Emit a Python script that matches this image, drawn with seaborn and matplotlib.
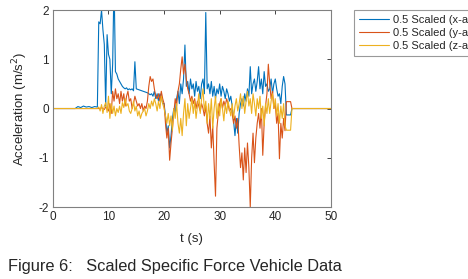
import numpy as np
import pandas as pd
import matplotlib
matplotlib.use("Agg")
import matplotlib.pyplot as plt
import seaborn as sns

# quiet lead-in, then the active recording sampled every 0.25 s from t=8 to t=43
t_pre = [0.0, 4.0, 4.5, 5.0, 5.5, 6.0, 6.5, 7.0, 7.5]
t_post = [50.0]
dt = 0.25
t_start = 8.0

x_pre = [0, 0, 0.04, 0.02, 0.05, 0.03, 0.04, 0.02, 0.04]
y_pre = [0, 0, 0, 0, 0, 0, 0, 0, 0]
z_pre = [0, 0, 0, 0, 0, 0, 0, 0, 0]

x_acc = [0.03, 1.76, 1.72, 2.0,
         1.6, 1.3, 0.05, 1.5,
         1.1, 1.0, 0.3, 0.9,
         2.6, 0.75, 0.7, 0.6,
         0.55, 0.5, 0.45, 0.42,
         0.4, 0.42, 0.38, 0.4,
         0.38, 0.4, 0.36, 0.95,
         0.4, 0.39, 0.38, 0.37,
         0.36, 0.35, 0.34, 0.33,
         0.32, 0.3, 0.28, 0.3,
         0.25, 0.35, 0.2, 0.3,
         0.15, 0.3, 0.25, 0.1,
         0.1, -0.15, -0.5, -0.35,
         -0.8, -0.55, -0.2, 0.0,
         -0.1, 0.2, 0.35, 0.1,
         0.5, 0.3, 0.6, 1.29,
         0.45, 0.55, 0.3, 0.6,
         0.4, 0.5, 0.25, 0.55,
         0.35, 0.45, 0.2, 0.5,
         0.6, 0.3, 1.95, 0.4,
         0.5, 0.3, 0.55, 0.25,
         0.45, 0.2, 0.4, 0.3,
         0.5, 0.25, 0.45, 0.35,
         0.2, 0.4, 0.3, 0.15,
         0.25, 0.05, -0.25, -0.55,
         -0.2, -0.5, -0.1, 0.1,
         0.2, 0.05, 0.3, 0.15,
         0.4, 0.25, 0.85, 0.3,
         0.5, 0.6, 0.35, 0.55,
         0.85, 0.4, 0.6, 0.3,
         0.75, 0.45, 0.5, 0.35,
         0.4, 0.6, 0.3, 0.5,
         0.6, 0.4, 0.25, 0.3,
         0.1, 0.45, 0.65, 0.5,
         -0.13, -0.13, -0.13, -0.13,
         0.0]

y_acc = [0.0, 0.0, 0.0, 0.02,
         0.0, -0.02, 0.03, 0.0,
         -0.05, 0.1, -0.1, 0.35,
         0.15, 0.4, 0.2, 0.3,
         0.1, 0.35, 0.15, 0.3,
         0.05, 0.25, 0.35, 0.15,
         0.2, 0.0, 0.1, 0.25,
         0.15, 0.05, 0.1, 0.0,
         0.1, -0.05, 0.05, 0.0,
         0.15, 0.45, 0.65, 0.55,
         0.6, 0.4, 0.25, 0.2,
         0.3, 0.15, 0.35, 0.2,
         0.1, -0.3, -0.6, -0.4,
         -1.05, -0.7, -0.4, -0.1,
         0.2, 0.05, 0.35, 0.5,
         0.8, 1.05, 0.7, 0.9,
         0.6, 0.4, 0.3, 0.15,
         0.25, 0.1, 0.2, 0.0,
         0.15, 0.05, -0.05, 0.1,
         0.0, -0.15, 0.05, -0.3,
         -0.5, -0.15, -0.8, -0.35,
         -1.1, -1.78, -0.4, -0.1,
         0.1, 0.2, 0.0, 0.15,
         0.05, 0.2, 0.1, -0.05,
         0.0, -0.1, -0.3, -0.15,
         -0.4, -0.2, -0.75, -1.2,
         -0.9, -1.45, -0.8, -1.3,
         -0.7, -1.2, -2.0, -1.0,
         -0.5, -1.1, -0.6, -0.3,
         -0.1, -0.4, 0.0, -0.95,
         -0.3, 0.05, 0.3, 0.9,
         0.5, 0.2, 0.35, 0.0,
         0.1, -0.3, -0.1, -1.02,
         -0.3, -0.6, -0.2, -0.45,
         0.14, 0.14, 0.14, 0.14,
         0.0]

z_acc = [0.0, 0.03, -0.05, 0.08,
         -0.1, 0.05, 0.12, -0.08,
         0.25, -0.2, 0.1, -0.1,
         0.05, -0.15, 0.0, -0.08,
         0.05, -0.1, 0.12, 0.02,
         0.2, 0.05, 0.1, -0.05,
         -0.1, 0.0, 0.15, -0.05,
         0.05, -0.15, -0.05, -0.2,
         -0.1, -0.05, 0.0, -0.15,
         -0.05, 0.1, 0.0, 0.15,
         0.05, 0.2, 0.1, -0.05,
         0.15, 0.0, 0.25, 0.1,
         0.0, -0.15, -0.3, -0.1,
         -0.35, -0.15, -0.45, 0.0,
         -0.2, 0.1, -0.3, -0.5,
         -0.2, -0.55, -0.1, 0.2,
         -0.35, 0.1, -0.2, 0.0,
         0.2, -0.1, 0.15, -0.2,
         0.05, 0.3, -0.1, 0.2,
         0.4, -0.05, 0.15, -0.3,
         0.1, -0.2, 0.2, -0.4,
         0.0, 0.25, -0.2, 0.1,
         -0.15, 0.2, 0.0, -0.25,
         0.1, -0.1, 0.15, 0.0,
         -0.15, 0.1, -0.2, 0.05,
         0.2, -0.05, 0.1, 0.3,
         0.0, 0.25, -0.1, 0.15,
         0.35, 0.05, 0.2, -0.1,
         0.3, 0.1, -0.15, 0.2,
         0.0, 0.25, -0.2, 0.05,
         -0.35, 0.1, -0.1, 0.2,
         -0.1, 0.15, 0.3, 0.0,
         0.2, -0.15, 0.1, -0.3,
         0.05, -0.2, 0.1, -0.35,
         -0.44, -0.44, -0.44, -0.44,
         0.0]

labels = ["0.5 Scaled (x-axis)", "0.5 Scaled (y-axis)", "0.5 Scaled (z-axis)"]
colors = ["#0072BD", "#D95319", "#EDB120"]

t_active = t_start + dt * np.arange(len(x_acc))
t_all = np.concatenate([t_pre, t_active, t_post])

frames = []
for lab, pre, vals in zip(labels, [x_pre, y_pre, z_pre], [x_acc, y_acc, z_acc]):
    frames.append(pd.DataFrame({"t": t_all,
                                "acc": np.concatenate([pre, vals, [0.0]]),
                                "series": lab}))
df = pd.concat(frames, ignore_index=True)

sns.set_style("white")
plt.rcParams["font.family"] = ["Liberation Sans", "DejaVu Sans"]
plt.rcParams["axes.unicode_minus"] = False

fig = plt.figure(figsize=(4.68, 2.79), dpi=100)
ax = fig.add_axes([0.113, 0.258, 0.594, 0.706])

sns.lineplot(data=df, x="t", y="acc", hue="series", palette=colors,
             estimator=None, sort=False, linewidth=0.8, ax=ax, legend=False)

ax.set_xlim(0, 50)
ax.set_ylim(-2, 2)
ax.set_xticks([0, 10, 20, 30, 40, 50])
ax.set_yticks([-2, -1, 0, 1, 2])
ax.tick_params(direction="in", length=3, width=0.6, labelsize=8.5, colors="#262626",
               top=True, right=True, pad=3)
for s in ax.spines.values():
    s.set_color("#808080")
    s.set_linewidth(0.8)
ax.set_xlabel("t (s)", fontsize=9.5, color="#262626", labelpad=7)
ax.set_ylabel("Acceleration (m/s$^2$)", fontsize=9.5, color="#262626", labelpad=6)

handles = [plt.Line2D([], [], color=c, linewidth=0.8) for c in colors]
leg = fig.legend(handles, labels, loc="upper left", bbox_to_anchor=(0.744, 0.985),
                 fontsize=8, frameon=True, fancybox=False, handlelength=2.7,
                 borderpad=0.45, labelspacing=0.28, handletextpad=0.4)
leg.get_frame().set_edgecolor("#808080")
leg.get_frame().set_linewidth(0.8)

fig.text(0.017, 0.03, "Figure 6:   Scaled Specific Force Vehicle Data",
         fontsize=11.8, color="#262626")

fig.savefig("out.png", dpi=100)
